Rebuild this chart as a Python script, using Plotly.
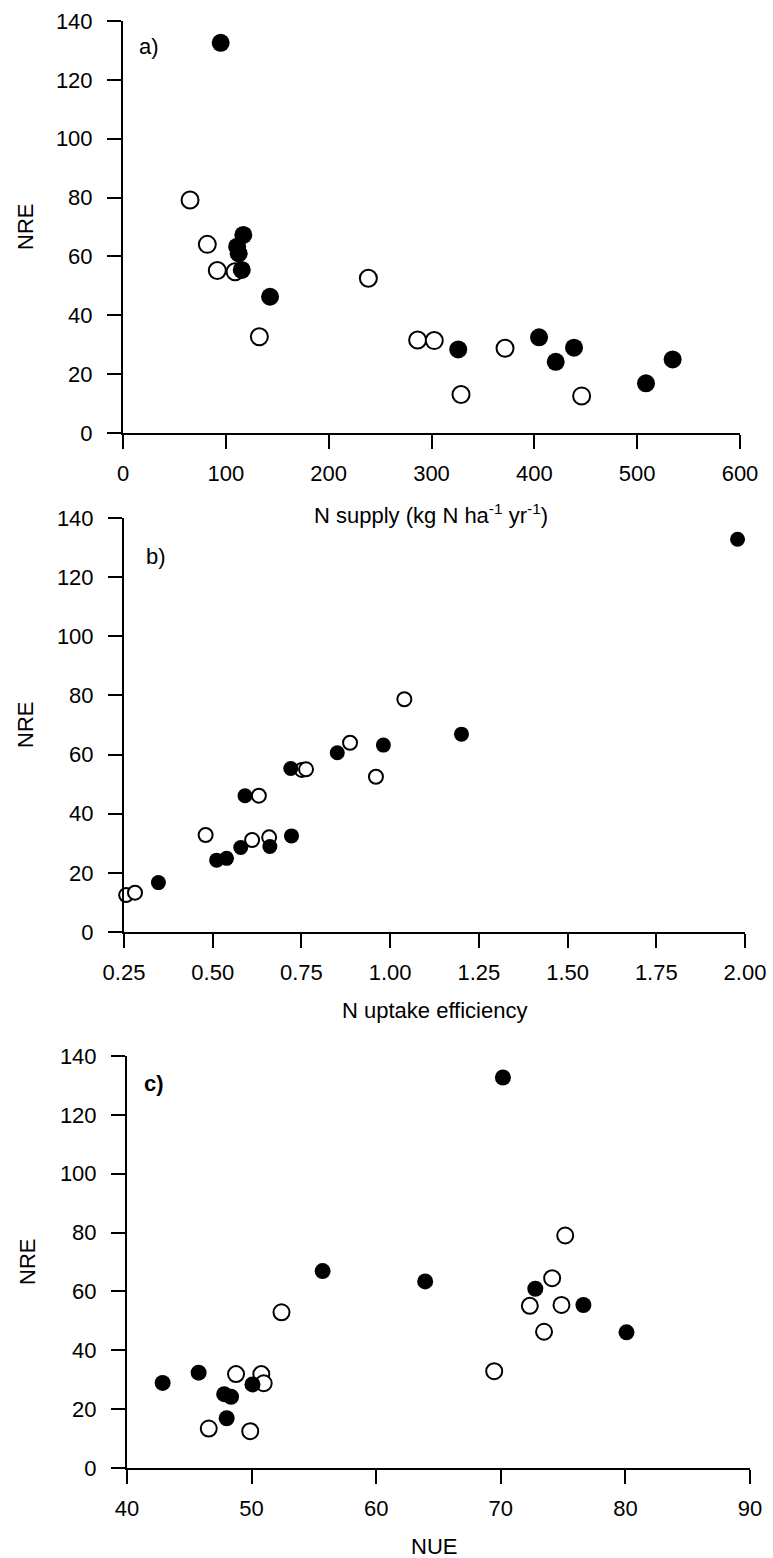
import plotly.graph_objects as go

# ---------------- data ----------------
# Panel a: N supply vs NRE
a_filled_x = [95, 117, 111, 112.5, 115.5, 143, 326, 404.6, 420.8, 438.6, 508.6, 534.5]
a_filled_y = [132.6, 67.3, 63.3, 61, 55.4, 46.3, 28.4, 32.5, 24.2, 29, 16.9, 25]
a_open_x = [65.2, 82, 91.7, 109, 132.6, 238.6, 286.5, 302.7, 371.5, 328.7, 446]
a_open_y = [79.2, 64.1, 55.2, 54.8, 32.7, 52.6, 31.6, 31.4, 28.8, 13.1, 12.6]

# Panel b: N uptake efficiency vs NRE
b_filled_x = [0.347, 0.511, 0.539, 0.579, 0.661, 0.722, 0.591, 0.720, 0.851, 0.981, 1.201, 1.979]
b_filled_y = [16.7, 24.3, 24.9, 28.6, 28.9, 32.5, 46.1, 55.3, 60.6, 63.2, 66.9, 132.8]
b_open_x = [0.256, 0.281, 0.480, 0.611, 0.659, 0.630, 0.751, 0.763, 0.960, 0.887, 1.040]
b_open_y = [12.5, 13.3, 32.8, 31.1, 32.0, 46.1, 54.8, 55.0, 52.5, 64.0, 78.7]

# Panel c: NUE vs NRE
c_filled_x = [42.86, 45.75, 47.80, 48.35, 48.0, 50.07, 55.7, 70.17, 63.93, 72.77, 76.63, 80.09]
c_filled_y = [28.9, 32.4, 25.1, 24.2, 16.9, 28.4, 66.9, 132.7, 63.4, 60.9, 55.4, 46.1]
c_open_x = [46.56, 49.89, 48.75, 50.78, 50.97, 52.4, 69.47, 72.33, 73.47, 74.87, 74.12, 75.17]
c_open_y = [13.4, 12.5, 31.9, 31.9, 28.8, 52.9, 32.9, 55.1, 46.3, 55.4, 64.5, 79.0]

y_ticks = [0, 20, 40, 60, 80, 100, 120, 140]
a_ticks = [0, 100, 200, 300, 400, 500, 600]
b_ticks = [0.25, 0.50, 0.75, 1.00, 1.25, 1.50, 1.75, 2.00]
b_ticklabels = ["0.25", "0.50", "0.75", "1.00", "1.25", "1.50", "1.75", "2.00"]
c_ticks = [40, 50, 60, 70, 80, 90]

# ---------------- layout geometry (pixels) ----------------
W, H = 773, 1558
FONT = "Arial, 'Liberation Sans', sans-serif"
FS = 22

def px_x(p):
    return p / W

def px_y(p):
    return 1 - p / H

fig = go.Figure()

def add_pair(fx, fy, ox, oy, xa, ya, fsize, osize):
    fig.add_trace(go.Scatter(x=ox, y=oy, mode="markers", xaxis=xa, yaxis=ya,
                             cliponaxis=False, showlegend=False,
                             marker=dict(size=osize, color="white",
                                         line=dict(color="black", width=2))))
    fig.add_trace(go.Scatter(x=fx, y=fy, mode="markers", xaxis=xa, yaxis=ya,
                             cliponaxis=False, showlegend=False,
                             marker=dict(size=fsize, color="black",
                                         line=dict(width=0))))

add_pair(a_filled_x, a_filled_y, a_open_x, a_open_y, "x", "y", 18, 17)
add_pair(b_filled_x, b_filled_y, b_open_x, b_open_y, "x2", "y2", 15, 14)
add_pair(c_filled_x, c_filled_y, c_open_x, c_open_y, "x3", "y3", 16, 16)

def xaxis(dom, rng, tickvals, ticktext, anchor):
    return dict(domain=dom, range=rng, tickvals=tickvals, ticktext=ticktext,
                showline=True, linecolor="black", linewidth=2,
                ticks="outside", ticklen=14, tickwidth=2, tickcolor="black",
                showgrid=False, zeroline=False, anchor=anchor, automargin=False,
                tickfont=dict(family=FONT, size=FS, color="black"),
                ticklabelstandoff=6, fixedrange=True)

def yaxis(dom, anchor):
    return dict(domain=dom, range=[0, 140], tickvals=y_ticks,
                showline=True, linecolor="black", linewidth=2,
                ticks="outside", ticklen=14, tickwidth=2, tickcolor="black",
                showgrid=False, zeroline=False, anchor=anchor, automargin=False,
                tickfont=dict(family=FONT, size=FS, color="black"),
                ticklabelstandoff=10, fixedrange=True)

ax_a = [px_x(123), px_x(740)]
ax_b = [px_x(124), px_x(745)]
ax_c = [px_x(127), px_x(750)]
ya = [px_y(433), px_y(21)]
yb = [px_y(932), px_y(518)]
yc = [px_y(1468), px_y(1056)]

annotations = []

def ann(text, x, y, xanchor="center", angle=0, bold=False):
    annotations.append(dict(text=("<b>%s</b>" % text) if bold else text,
                            x=px_x(x), y=px_y(y), xref="paper", yref="paper",
                            xanchor=xanchor, yanchor="middle", showarrow=False,
                            textangle=angle,
                            font=dict(family=FONT, size=FS, color="black")))

ann("N supply (kg N ha<sup>-1</sup> yr<sup>-1</sup>)", 431, 514)
ann("N uptake efficiency", 434, 1010)
ann("NUE", 434, 1546)
ann("NRE", 25, 227, angle=-90)
ann("NRE", 25, 725, angle=-90)
ann("NRE", 27, 1262, angle=-90)
ann("a)", 137, 47, xanchor="left")
ann("b)", 144, 556, xanchor="left")
ann("c)", 142, 1083, xanchor="left", bold=True)

fig.update_layout(
    width=W, height=H,
    margin=dict(l=0, r=0, t=0, b=0, autoexpand=False),
    paper_bgcolor="white", plot_bgcolor="white",
    showlegend=False,
    xaxis=xaxis(ax_a, [0, 600], a_ticks, [str(t) for t in a_ticks], "y"),
    yaxis=yaxis(ya, "x"),
    xaxis2=xaxis(ax_b, [0.25, 2.0], b_ticks, b_ticklabels, "y2"),
    yaxis2=yaxis(yb, "x2"),
    xaxis3=xaxis(ax_c, [40, 90], c_ticks, [str(t) for t in c_ticks], "y3"),
    yaxis3=yaxis(yc, "x3"),
    annotations=annotations,
)

fig.write_html("out.html")
